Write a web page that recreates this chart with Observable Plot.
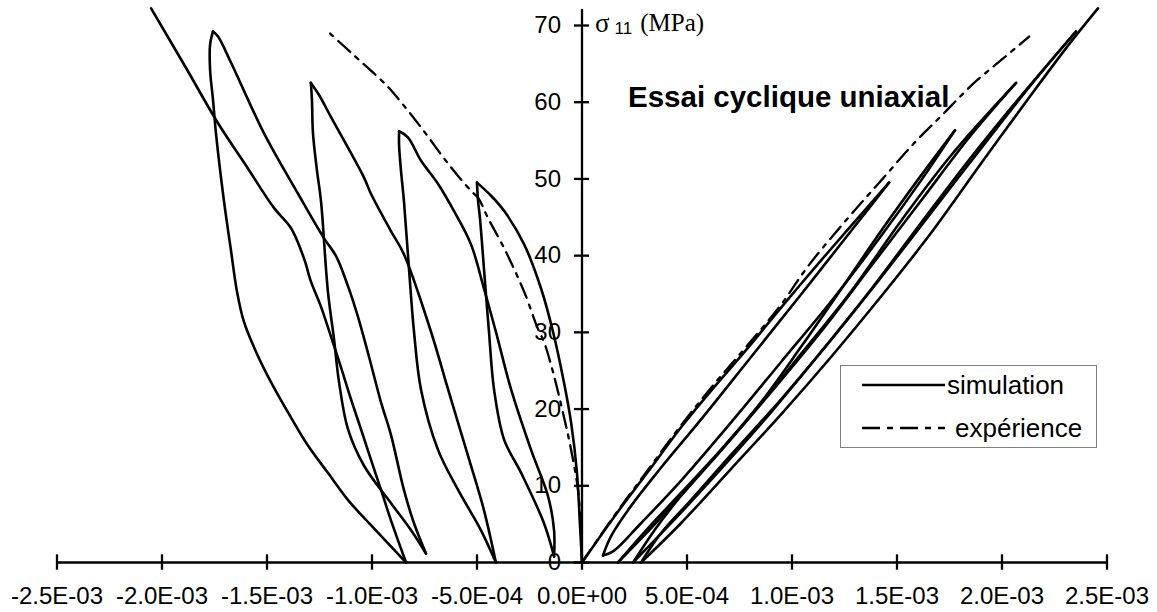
<!DOCTYPE html>
<html><head><meta charset="utf-8">
<script src="https://cdn.jsdelivr.net/npm/d3@7"></script>
<script src="https://cdn.jsdelivr.net/npm/@observablehq/plot@0.6"></script>
<style>
body{margin:0;background:#fff;}
#wrap{position:relative;width:1157px;height:612px;overflow:hidden;}
#over{position:absolute;left:0;top:0;pointer-events:none;}
</style></head><body>
<div id="wrap"></div>
<script>
// axis ticks
const xTicks = [-2.5e-3,-2.0e-3,-1.5e-3,-1.0e-3,-5.0e-4,0,5.0e-4,1.0e-3,1.5e-3,2.0e-3,2.5e-3];
const yTicks = [0,10,20,30,40,50,60,70];
const legendLabels = ["simulation","expérience"];
const titleText = "Essai cyclique uniaxial";

// strain values in units of 1e-3, stress in MPa  [strain, stress]
// simulation – lateral (negative) side
const simL1 = [[0,0],[-0.01,5.12],[-0.024,11.69],[-0.052,18.26],[-0.091,24.17],[-0.138,30.08],[-0.195,35.72],[-0.276,41.50],[-0.371,45.84],[-0.433,47.81],[-0.500,49.52]];
const simL2 = [[-0.500,49.52],[-0.495,47.15],[-0.486,44.92],[-0.467,38.35],[-0.443,30.08],[-0.419,22.59],[-0.371,16.02],[-0.290,11.69],[-0.181,5.12],[-0.133,0.79]];
const simL3 = [[-0.133,0.79],[-0.133,4.20],[-0.162,8.67],[-0.243,14.71],[-0.338,22.59],[-0.410,30.08],[-0.467,35.72],[-0.529,41.50],[-0.610,45.84],[-0.686,49.38],[-0.767,52.40],[-0.829,55.43],[-0.871,56.21]];
const simL4 = [[-0.871,56.21],[-0.871,54.37],[-0.862,51.09],[-0.848,47.15],[-0.824,38.35],[-0.800,30.08],[-0.767,22.59],[-0.686,14.71],[-0.590,9.46],[-0.481,4.20],[-0.410,0]];
const simL5 = [[-0.410,0],[-0.467,6.83],[-0.543,13.92],[-0.638,22.59],[-0.719,30.08],[-0.848,40.19],[-0.910,43.21],[-1.005,48.07],[-1.038,50.17],[-1.195,58.05],[-1.252,60.94],[-1.291,62.52]];
const simL6 = [[-1.291,62.52],[-1.286,60.28],[-1.281,55.95],[-1.262,51.09],[-1.243,47.15],[-1.210,35.33],[-1.181,29.16],[-1.157,23.51],[-1.114,17.34],[-1.038,12.61],[-0.910,7.75],[-0.814,4.20],[-0.743,1.18]];
const simL7 = [[-0.743,1.18],[-0.800,5.12],[-0.848,9.46],[-0.910,16.68],[-0.957,20.88],[-1.014,26.79],[-1.067,32.05],[-1.114,35.99],[-1.171,39.93],[-1.229,42.29],[-1.352,48.07],[-1.514,55.95],[-1.671,65.14],[-1.733,68.56],[-1.757,69.22]];
const simL8 = [[-1.757,69.22],[-1.771,67.51],[-1.771,64.22],[-1.757,60.28],[-1.743,55.95],[-1.705,47.15],[-1.671,40.58],[-1.643,35.33],[-1.610,31.39],[-1.552,27.45],[-1.481,23.51],[-1.386,18.91],[-1.305,15.24],[-1.210,11.69],[-1.114,8.14],[-1.005,4.86],[-0.910,2.10],[-0.838,0]];
const simL9 = [[-0.838,0],[-0.871,2.50],[-0.910,5.52],[-0.957,9.46],[-1.005,13.40],[-1.052,17.34],[-1.100,21.28],[-1.148,25.48],[-1.195,29.42],[-1.243,33.36],[-1.291,36.64],[-1.324,39.66],[-1.386,43.60],[-1.467,46.23],[-1.600,51.75],[-1.733,57.26],[-1.886,64.49],[-2.052,72.24]];
// simulation – axial (positive) side
const simR1 = [[0,0],[0.152,5.91],[0.314,11.82],[0.471,17.60],[0.629,22.85],[0.790,27.98],[0.948,33.23],[1.114,38.61],[1.281,43.87],[1.462,49.52]];
const simR2 = [[1.462,49.52],[1.281,43.21],[1.043,34.94],[0.805,26.79],[0.567,18.65],[0.376,12.35],[0.233,7.35],[0.138,3.41],[0.100,0.92]];
const simR3 = [[0.100,0.92],[0.148,1.44],[0.281,5.12],[0.471,10.64],[0.710,18.26],[0.948,26.14],[1.186,34.02],[1.424,42.55],[1.614,49.78],[1.776,56.34]];
const simR4 = [[1.776,56.34],[1.614,50.43],[1.424,43.21],[1.233,35.59],[1.043,28.11],[0.852,20.88],[0.662,14.71],[0.471,9.06],[0.305,4.20],[0.171,0]];
const simR5 = [[0.171,0],[0.329,4.47],[0.567,11.69],[0.805,19.18],[1.043,27.19],[1.281,35.33],[1.519,44.52],[1.757,53.06],[2.067,62.52]];
const simR6 = [[2.067,62.52],[1.852,55.69],[1.614,47.15],[1.376,38.61],[1.138,30.08],[0.900,22.20],[0.662,14.58],[0.471,8.67],[0.352,4.47],[0.243,0]];
const simR7 = [[0.243,0],[0.424,5.12],[0.662,12.21],[0.900,19.57],[1.138,27.45],[1.376,35.59],[1.614,44.26],[1.852,52.80],[2.090,60.81],[2.352,69.22]];
const simR8 = [[2.352,69.22],[2.138,62.25],[1.900,53.98],[1.662,45.57],[1.424,37.17],[1.186,29.03],[0.948,21.28],[0.710,14.05],[0.519,8.14],[0.376,3.81],[0.281,0]];
const simR9 = [[0.281,0],[0.471,5.12],[0.710,12.21],[0.948,19.31],[1.186,26.79],[1.424,34.67],[1.662,42.95],[1.900,52.01],[2.138,60.94],[2.329,67.90],[2.457,72.24]];
// experiment
const expL = [[0,0],[-0.005,3.81],[-0.019,9.46],[-0.052,14.71],[-0.091,19.57],[-0.138,24.82],[-0.181,28.76],[-0.210,30.47],[-0.276,35.33],[-0.371,40.98],[-0.448,44.92],[-0.495,47.55],[-0.529,48.46],[-0.638,52.01],[-0.767,56.74],[-0.862,60.02],[-0.933,62.25],[-1.100,66.46],[-1.205,69.09]];
const expR = [[0,0],[0.152,6.04],[0.314,12.08],[0.471,17.86],[0.629,23.25],[0.790,28.37],[0.948,33.62],[1.076,38.61],[1.267,44.92],[1.424,49.78],[1.581,54.64],[1.724,58.58],[1.867,62.52],[2.010,65.80],[2.129,68.56]];

const STRAIN_UNIT = 1e-3;
const simSegs = {simL1,simL2,simL3,simL4,simL5,simL6,simL7,simL8,simL9,simR1,simR2,simR3,simR4,simR5,simR6,simR7,simR8,simR9};
const expSegs = {expL,expR};
const toRows = segs => Object.entries(segs).flatMap(([k,arr]) => arr.map(([e,s]) => ({seg:k, strain:e*STRAIN_UNIT, stress:s})));
const simRows = toRows(simSegs);
const expRows = toRows(expSegs);

const fmt = d => { const [m,e] = d.toExponential(1).split("e"); const n = +e; return m + "E" + (n<0?"-":"+") + String(Math.abs(n)).padStart(2,"0"); };

const W = 1157, H = 612;
const dash = "16,7,4,7";
const font = "'Liberation Sans', Arial, Helvetica, sans-serif";
const xTick = 3.6e-5, yTick = 1.0;

const plot = Plot.plot({
  width: W, height: H,
  marginLeft: 56.5, marginRight: 50.5, marginTop: 0, marginBottom: 50,
  x: {domain: [xTicks[0], xTicks[xTicks.length-1]], axis: null},
  y: {domain: [0, 73.26], axis: null},
  style: {fontFamily: font, background: "#fff", overflow: "visible", color: "#000"},
  marks: [
    Plot.line(expRows, {x: "strain", y: "stress", z: "seg", curve: "catmull-rom", stroke: "#000", strokeWidth: 2.3, strokeDasharray: dash}),
    Plot.line(simRows, {x: "strain", y: "stress", z: "seg", curve: "catmull-rom", stroke: "#000", strokeWidth: 2.6, strokeLinejoin: "round", strokeLinecap: "round"}),
    Plot.ruleY([0], {x1: xTicks[0], x2: xTicks[xTicks.length-1], stroke: "#000", strokeWidth: 2.3}),
    Plot.ruleX([0], {y1: 0, y2: 72.1, stroke: "#000", strokeWidth: 2.3}),
    Plot.ruleX(xTicks, {x: d => d, y1: -yTick, y2: yTick, stroke: "#000", strokeWidth: 2.3}),
    Plot.ruleY(yTicks, {y: d => d, x1: -xTick, x2: xTick, stroke: "#000", strokeWidth: 2.3}),
    Plot.text(xTicks, {x: d => d, y: 0, text: fmt, dy: 34, fontSize: 24, fill: "#000", textAnchor: "middle"}),
    Plot.text(yTicks, {x: 0, y: d => d, text: d => String(d), dx: -21, fontSize: 24, fill: "#000", textAnchor: "end"})
  ]
});
document.getElementById("wrap").appendChild(plot);

// overlay: axis title, chart title, legend
const svg = d3.select("#wrap").append("svg").attr("id","over").attr("width",W).attr("height",H);
const lab = svg.append("text").attr("x",595).attr("y",32).attr("fill","#000");
lab.append("tspan").attr("font-family","'Liberation Serif','DejaVu Serif',serif").attr("font-size",27).text("σ");
lab.append("tspan").attr("font-family",font).attr("font-size",17).attr("dx",5).attr("dy",2).text("11");
lab.append("tspan").attr("font-family","'Liberation Serif','Times New Roman',serif").attr("font-size",25).attr("dx",8).attr("dy",-3).text("(MPa)");
svg.append("text").attr("x",628).attr("y",107).attr("font-family",font).attr("font-weight","bold").attr("font-size",29.5).attr("fill","#000").text(titleText);
const lg = svg.append("g");
lg.append("rect").attr("x",840.5).attr("y",365.5).attr("width",256).attr("height",82).attr("fill","#fff").attr("stroke","#808080").attr("stroke-width",1);
lg.append("line").attr("x1",862).attr("x2",945).attr("y1",385).attr("y2",385).attr("stroke","#000").attr("stroke-width",2.3);
lg.append("line").attr("x1",862).attr("x2",945).attr("y1",428).attr("y2",428).attr("stroke","#000").attr("stroke-width",2.3).attr("stroke-dasharray","18,7,6,7");
lg.append("text").attr("x",947).attr("y",385).attr("dy","0.35em").attr("font-family",font).attr("font-size",26).attr("fill","#000").text(legendLabels[0]);
lg.append("text").attr("x",955).attr("y",428).attr("dy","0.35em").attr("font-family",font).attr("font-size",26).attr("fill","#000").text(legendLabels[1]);
</script>
</body></html>
